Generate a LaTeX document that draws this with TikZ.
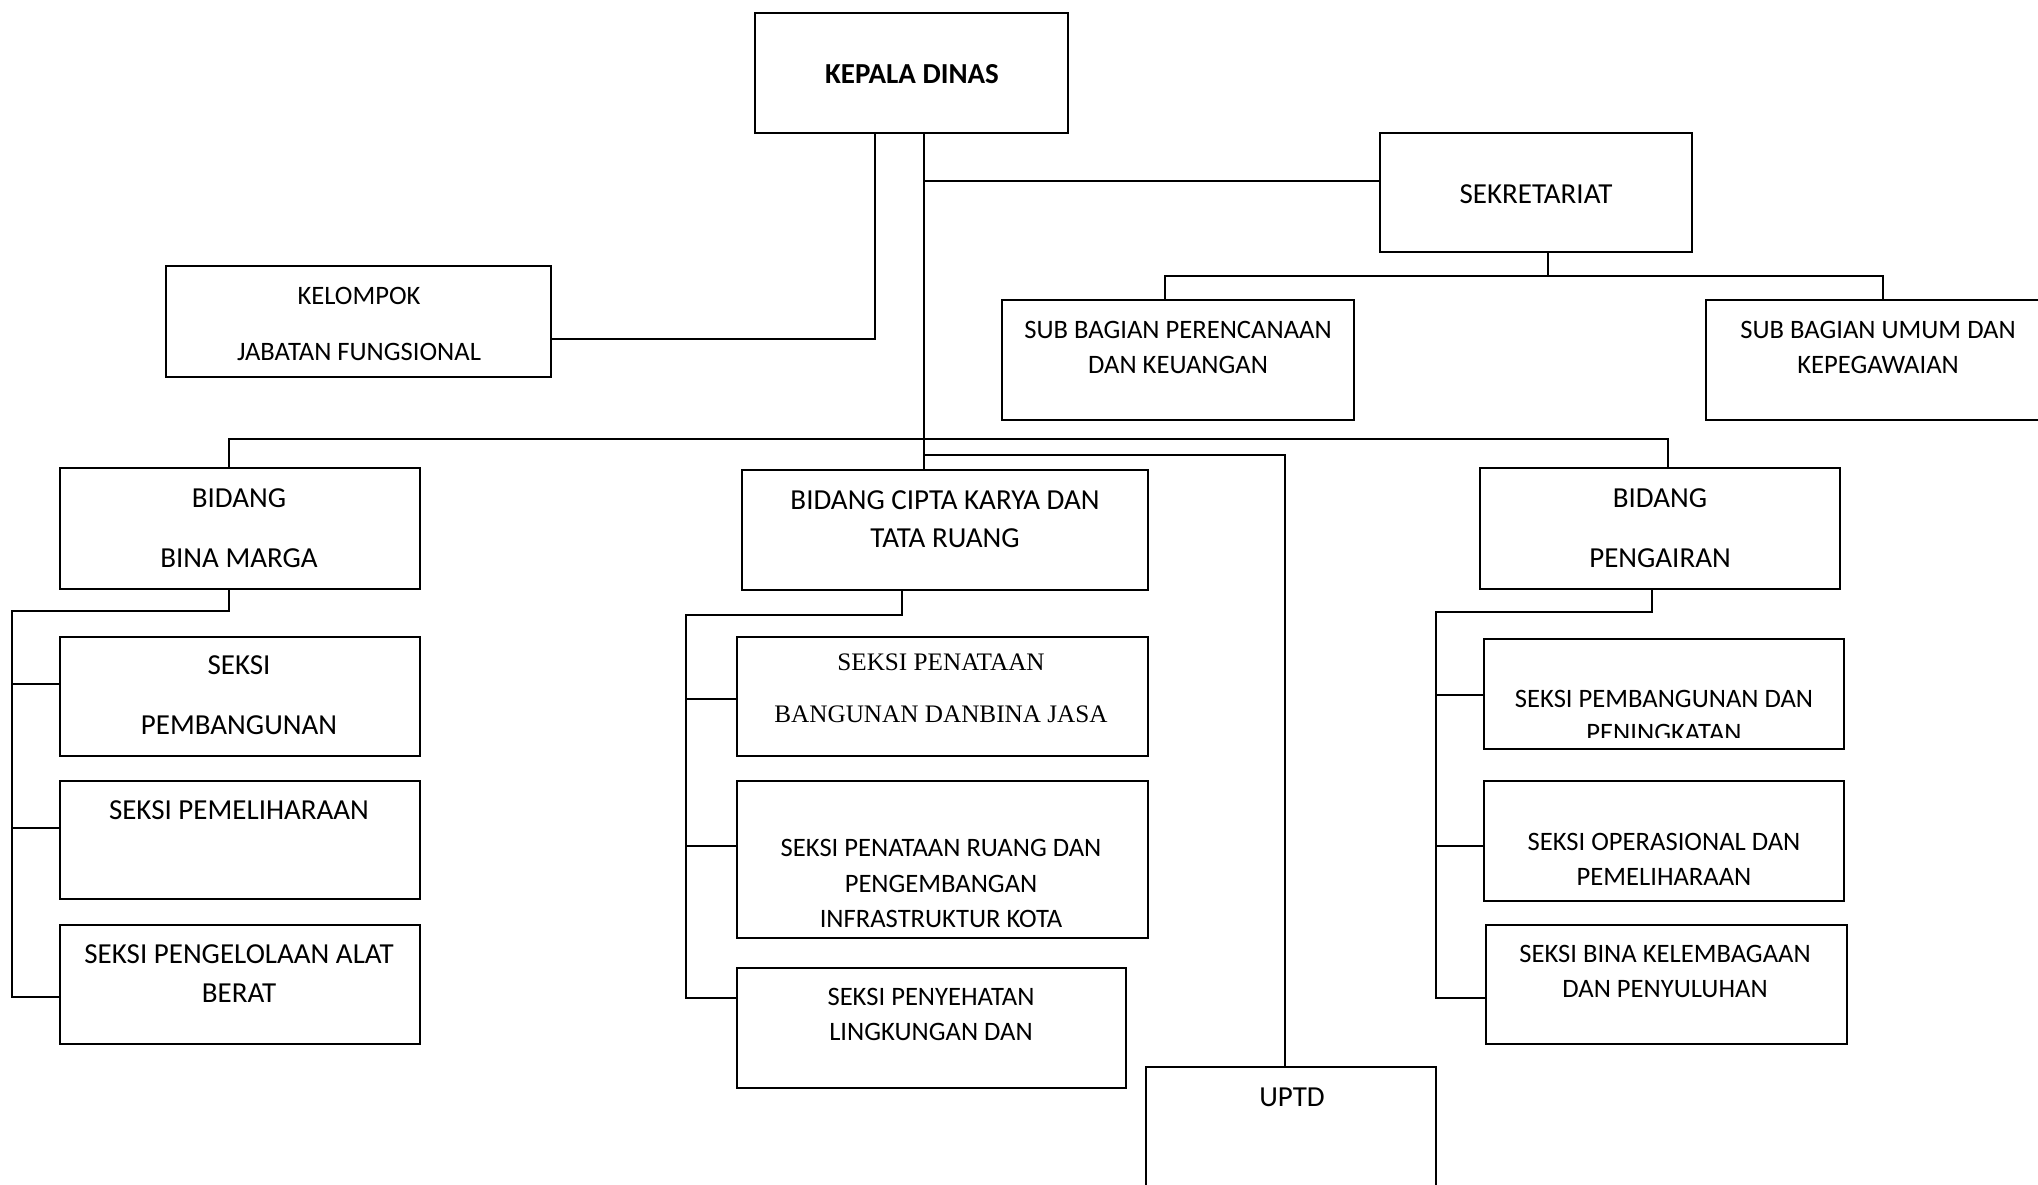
\documentclass[tikz,border=0pt]{standalone}
\usepackage{fontspec}
\setmainfont{Carlito}
\newfontfamily\serifb{Liberation Serif}
\begin{document}
\begin{tikzpicture}[x=0.5pt,y=-0.5pt,
  box/.style={draw, line width=1.2pt, rectangle, inner sep=0pt},
  sz/.style 2 args={minimum width=#1*0.5pt, minimum height=#2*0.5pt},
  big/.style={font=\fontsize{14.5}{17}\selectfont, anchor=base, inner sep=0pt},
  small/.style={font=\fontsize{13.3}{16}\selectfont, anchor=base, inner sep=0pt},
  ser/.style={font=\serifb\fontsize{12.6}{15}\selectfont, anchor=base, inner sep=0pt},
  conn/.style={line width=1.2pt}]
\useasboundingbox[fill=white] (0,0) rectangle (2038,1184);
\clip (0,0) rectangle (2038,1184);
% boxes
\node[box, sz={313}{120}] (kd) at (911.5,73) {};
\node[box, sz={312}{119}] (sek) at (1536,192.5) {};
\node[box, sz={385}{111}] (kel) at (358.5,321.5) {};
\node[box, sz={352}{120}] (sb1) at (1178,360) {};
\node[box, sz={344}{120}] (sb2) at (1878,360) {};
\node[box, sz={360}{121}] (bbm) at (240,528.5) {};
\node[box, sz={406}{120}] (cip) at (945,530) {};
\node[box, sz={360}{121}] (peng) at (1660,528.5) {};
\node[box, sz={360}{119}] (bm1) at (240,696.5) {};
\node[box, sz={360}{118}] (bm2) at (240,840) {};
\node[box, sz={360}{119}] (bm3) at (240,984.5) {};
\node[box, sz={411}{119}] (ck1) at (942.5,696.5) {};
\node[box, sz={411}{157}] (ck2) at (942.5,859.5) {};
\node[box, sz={389}{120}] (ck3) at (931.5,1028) {};
\node[box, sz={290}{133}] (uptd) at (1291,1133.5) {};
\node[box, sz={360}{110}] (p1) at (1664,694) {};
\node[box, sz={360}{120}] (p2) at (1664,841) {};
\node[box, sz={361}{119}] (p3) at (1666.5,984.5) {};
% texts
\node[big, font=\bfseries\fontsize{14.5}{17}\selectfont] (kd-a) at (912,83) {KEPALA DINAS};
\node[big] (sek-a) at (1536,203) {SEKRETARIAT};
\node[small] (kel-a) at (359,304) {KELOMPOK};
\node[small] (kel-b) at (359,360) {JABATAN FUNGSIONAL};
\node[small] (sb1-a) at (1178,338) {SUB BAGIAN PERENCANAAN};
\node[small] (sb1-b) at (1178,373) {DAN KEUANGAN};
\node[small] (sb2-a) at (1878,338) {SUB BAGIAN UMUM DAN};
\node[small] (sb2-b) at (1878,373) {KEPEGAWAIAN};
\node[big] (bbm-a) at (239,507) {BIDANG};
\node[big] (bbm-b) at (239,567) {BINA MARGA};
\node[big] (cip-a) at (945,509) {BIDANG CIPTA KARYA DAN};
\node[big] (cip-b) at (945,547) {TATA RUANG};
\node[big] (peng-a) at (1660,507) {BIDANG};
\node[big] (peng-b) at (1660,567) {PENGAIRAN};
\node[big] (bm1-a) at (239,674) {SEKSI};
\node[big] (bm1-b) at (239,734) {PEMBANGUNAN};
\node[big] (bm2-a) at (239,819) {SEKSI PEMELIHARAAN};
\node[big] (bm3-a) at (239,963) {SEKSI PENGELOLAAN ALAT};
\node[big] (bm3-b) at (239,1002) {BERAT};
\node[ser] (ck1-a) at (941,670) {SEKSI PENATAAN};
\node[ser] (ck1-b) at (941,722) {BANGUNAN DANBINA JASA};
\node[small] (ck2-a) at (941,856) {SEKSI PENATAAN RUANG DAN};
\node[small] (ck2-b) at (941,892) {PENGEMBANGAN};
\node[small] (ck2-c) at (941,927) {INFRASTRUKTUR KOTA};
\node[small] (ck3-a) at (931,1005) {SEKSI PENYEHATAN};
\node[small] (ck3-b) at (931,1040) {LINGKUNGAN DAN};
\node[big] (uptd-a) at (1292,1106) {UPTD};
\node[small] (p1-a) at (1664,707) {SEKSI PEMBANGUNAN DAN};
\begin{scope}
\clip (1484,639) rectangle (1844,737);
\node[small] (p1-b) at (1664,741) {PENINGKATAN};
\end{scope}
\node[small] (p2-a) at (1664,850) {SEKSI OPERASIONAL DAN};
\node[small] (p2-b) at (1664,885) {PEMELIHARAAN};
\node[small] (p3-a) at (1665,962) {SEKSI BINA KELEMBAGAAN};
\node[small] (p3-b) at (1665,997) {DAN PENYULUHAN};
% junctions
\coordinate (jsek) at (924,181);
\coordinate (jkel) at (875,339);
\coordinate (jsb) at (1548,276);
\coordinate (jsbl) at (1165,276);
\coordinate (jsbr) at (1883,276);
\coordinate (jbl) at (229,439);
\coordinate (jbr) at (1668,439);
\coordinate (juptd) at (924,455);
\coordinate (juptdr) at (1285,455);
\coordinate (bmt) at (229,611);
\coordinate (bmb) at (12,611);
\coordinate (ckt) at (902,615);
\coordinate (ckb) at (686,615);
\coordinate (pt) at (1652,612);
\coordinate (pb) at (1436,612);
% connectors
\draw[conn] (kd.south -| jsek) -- (cip.north -| jsek);
\draw[conn] (jsek) -- (sek.west |- jsek);
\draw[conn] (kd.south -| jkel) |- (kel.east |- jkel);
\draw[conn] (sek.south -| jsb) -- (jsb);
\draw[conn] (sb1.north -| jsbl) -- (jsbl) -- (jsbr) -- (sb2.north -| jsbr);
\draw[conn] (bbm.north -| jbl) -- (jbl) -- (jbr) -- (peng.north -| jbr);
\draw[conn] (juptd) -| (uptd.north -| juptdr);
\draw[conn] (bbm.south -| bmt) -- (bmt) -- (bmb) |- (bm3.west |- 0,997);
\draw[conn] (bmb |- 0,684) -- (bm1.west |- 0,684);
\draw[conn] (bmb |- 0,828) -- (bm2.west |- 0,828);
\draw[conn] (cip.south -| ckt) -- (ckt) -- (ckb) |- (ck3.west |- 0,998);
\draw[conn] (ckb |- 0,699) -- (ck1.west |- 0,699);
\draw[conn] (ckb |- 0,846) -- (ck2.west |- 0,846);
\draw[conn] (peng.south -| pt) -- (pt) -- (pb) |- (p3.west |- 0,998);
\draw[conn] (pb |- 0,695) -- (p1.west |- 0,695);
\draw[conn] (pb |- 0,846) -- (p2.west |- 0,846);
\end{tikzpicture}
\end{document}
